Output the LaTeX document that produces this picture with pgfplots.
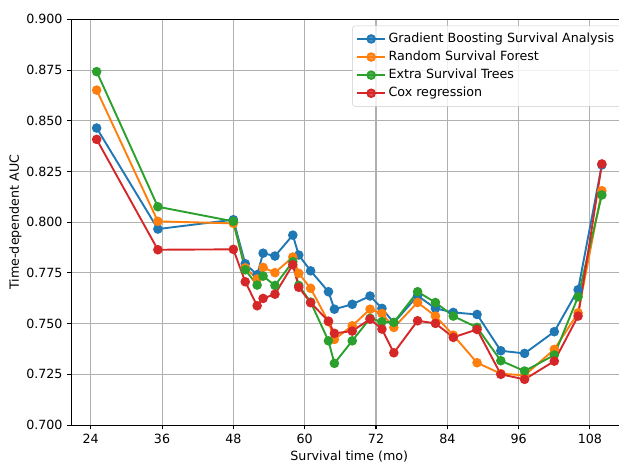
\documentclass[border=0pt]{standalone}
\usepackage{fontspec}
\setmainfont{DejaVu Sans}
\usepackage{pgfplots}
\pgfplotsset{compat=1.18}

\definecolor{steelblue31119180}{RGB}{31,119,180}
\definecolor{darkorange25512714}{RGB}{255,127,14}
\definecolor{forestgreen4416044}{RGB}{44,160,44}
\definecolor{crimson2143940}{RGB}{214,39,40}
\definecolor{darkgray176}{RGB}{176,176,176}
\definecolor{lightgray204}{RGB}{204,204,204}

\begin{document}
\begin{tikzpicture}

\begin{axis}[
scale only axis,
width=439pt, height=320.5pt,
xmin=20.75, xmax=114.25,
ymin=0.7, ymax=0.9,
xtick={24,36,48,60,72,84,96,108},
ytick={0.7,0.725,0.75,0.775,0.8,0.825,0.85,0.875,0.9},
yticklabel style={/pgf/number format/.cd,fixed,fixed zerofill,precision=3},
/pgf/number format/assume math mode=true,
tick align=outside,
tick pos=left,
major tick length=3.5pt,
every tick/.style={black, line width=0.8pt},
axis line style={line width=0.8pt},
xmajorgrids, ymajorgrids,
grid style={darkgray176, line width=0.8pt},
tick label style={font=\fontsize{10}{12}\selectfont},
label style={font=\fontsize{10}{12}\selectfont},
xlabel={Survival time (mo)},
ylabel={Time-dependent AUC},
xlabel style={at={(rel axis cs:0.5,-0.0780)}, anchor=center},
ylabel style={at={(rel axis cs:-0.101,0.5)}, anchor=center},
legend cell align={left},
legend style={
  at={(0.9887,0.9845)}, anchor=north east,
  draw=lightgray204, fill=white, fill opacity=0.8, text opacity=1,
  rounded corners=2pt,
  font=\fontsize{10}{12}\selectfont,
  nodes={inner sep=2pt, text height=7.5pt, text depth=2.2pt},
  row sep=0.6pt,
  inner xsep=3pt, inner ysep=3.5pt
},
legend image code/.code={
  \draw[mark repeat=2,mark phase=2,#1] plot coordinates {(0pt,0pt) (11pt,0pt) (22pt,0pt)};
},
every axis plot/.append style={line width=1.5pt, mark=*, mark size=3pt, mark options={solid}}
]
\addplot [steelblue31119180] table {%
25 0.8464
35.3 0.7966
48 0.8012
50 0.7795
52 0.7741
53 0.7847
55 0.7833
58 0.7936
59 0.7838
61 0.7760
64 0.7657
65 0.7571
68 0.7595
71 0.7636
73 0.7575
75 0.7504
79 0.7637
82 0.7575
85 0.7555
89 0.7545
93 0.7366
97 0.7353
102 0.7460
106 0.7667
110 0.8282
};
\addlegendentry{Gradient Boosting Survival Analysis}
\addplot [darkorange25512714] table {%
25 0.8651
35.3 0.8004
48 0.7994
50 0.7775
52 0.7720
53 0.7777
55 0.7751
58 0.7828
59 0.7748
61 0.7674
64 0.7509
65 0.7422
68 0.7489
71 0.7571
73 0.7550
75 0.7481
79 0.7604
82 0.7537
85 0.7443
89 0.7307
93 0.7253
97 0.7245
102 0.7373
106 0.7553
110 0.8155
};
\addlegendentry{Random Survival Forest}
\addplot [forestgreen4416044] table {%
25 0.8742
35.3 0.8076
48 0.8004
50 0.7765
52 0.7690
53 0.7734
55 0.7688
58 0.7805
59 0.7688
61 0.7606
64 0.7415
65 0.7304
68 0.7415
71 0.7526
73 0.7509
75 0.7506
79 0.7657
82 0.7604
85 0.7537
89 0.7481
93 0.7317
97 0.7266
102 0.7345
106 0.7632
110 0.8134
};
\addlegendentry{Extra Survival Trees}
\addplot [crimson2143940] table {%
25 0.8408
35.3 0.7864
48 0.7866
50 0.7706
52 0.7588
53 0.7624
55 0.7645
58 0.7790
59 0.7679
61 0.7603
64 0.7512
65 0.7452
68 0.7463
71 0.7522
73 0.7473
75 0.7356
79 0.7514
82 0.7501
85 0.7432
89 0.7471
93 0.7250
97 0.7225
102 0.7315
106 0.7537
110 0.8287
};
\addlegendentry{Cox regression}
\coordinate (bbBL) at (rel axis cs:-0.1285,-0.0912);
\coordinate (bbTR) at (rel axis cs:0.9854,1.0476);
\end{axis}

\pgfresetboundingbox
\useasboundingbox (bbBL) rectangle (bbTR);
\end{tikzpicture}
\end{document}
